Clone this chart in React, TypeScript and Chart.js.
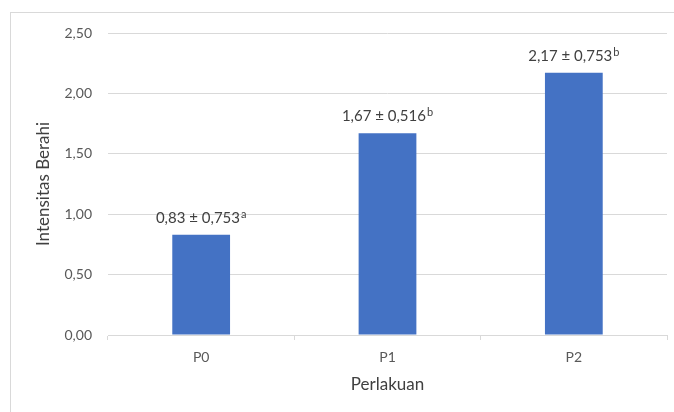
import React, { useEffect, useRef } from "react";
import { Chart, registerables } from "chart.js";

Chart.register(...registerables);

const categories = ["P0", "P1", "P2"];
const means = [0.83, 1.67, 2.17];
const sds = [0.753, 0.516, 0.753];
const letters = ["a", "b", "b"];
const yMin = 0;
const yMax = 2.5;
const yStep = 0.5;
const yTitle = "Intensitas Berahi";
const xTitle = "Perlakuan";

const FONT = "Lato";
const fmt = (v: number, d: number) => v.toFixed(d).replace(".", ",");

const labelPlugin = {
  id: "barLabels",
  afterDatasetsDraw(chart: any) {
    const ctx = chart.ctx;
    const meta = chart.getDatasetMeta(0);
    ctx.save();
    ctx.fillStyle = "#404040";
    ctx.textBaseline = "alphabetic";
    ctx.textAlign = "left";
    meta.data.forEach((el: any, i: number) => {
      const main = `${fmt(means[i], 2)} ± ${fmt(sds[i], 3)}`;
      const sup = letters[i];
      ctx.font = `15px ${FONT}`;
      const wMain = ctx.measureText(main).width;
      ctx.font = `11px ${FONT}`;
      const wSup = ctx.measureText(sup).width;
      const total = wMain + wSup + 1;
      const x0 = el.x - total / 2;
      const yBase = el.y - 12;
      ctx.font = `15px ${FONT}`;
      ctx.fillText(main, x0, yBase);
      ctx.font = `11px ${FONT}`;
      ctx.fillText(sup, x0 + wMain + 1, yBase - 5);
    });
    ctx.restore();
  },
};

export default function App() {
  const ref = useRef<HTMLCanvasElement | null>(null);

  useEffect(() => {
    document.body.style.margin = "0";
    if (!ref.current) return;
    const chart = new Chart(ref.current, {
      type: "bar",
      data: {
        labels: categories,
        datasets: [
          {
            data: means,
            backgroundColor: "#4472C4",
            categoryPercentage: 1,
            barPercentage: 0.31,
          },
        ],
      },
      options: {
        animation: false,
        responsive: false,
        maintainAspectRatio: false,
        layout: { padding: { left: 28, top: 33, right: 7, bottom: 13 } },
        plugins: { legend: { display: false }, tooltip: { enabled: false } },
        scales: {
          y: {
            min: yMin,
            max: yMax,
            ticks: {
              stepSize: yStep,
              padding: 16,
              color: "#595959",
              font: { family: FONT, size: 14 },
              callback: (v: any) => fmt(Number(v), 2),
            },
            grid: { color: "#d9d9d9", drawTicks: false, lineWidth: 1 },
            border: { display: false },
            title: {
              display: true,
              text: yTitle,
              color: "#404040",
              font: { family: FONT, size: 17 },
              padding: { top: 5, bottom: 0 },
            },
            afterFit: (s: any) => {
              s.width = 80;
            },
          },
          x: {
            ticks: {
              padding: 9,
              color: "#595959",
              font: { family: FONT, size: 14 },
            },
            grid: {
              offset: true,
              drawOnChartArea: false,
              drawTicks: true,
              tickLength: 5,
              color: "#d9d9d9",
            },
            border: { display: true, color: "#d9d9d9" },
            title: {
              display: true,
              text: xTitle,
              color: "#404040",
              font: { family: FONT, size: 17 },
              padding: { top: 0, bottom: 4 },
            },
            afterFit: (s: any) => {
              s.height = 64;
            },
          },
        },
      },
      plugins: [labelPlugin],
    });
    return () => chart.destroy();
  }, []);

  return (
    <div style={{ position: "relative", width: 674, height: 412, overflow: "hidden" }}>
      <div
        style={{
          position: "absolute",
          left: 10,
          top: 12,
          width: 700,
          height: 440,
          border: "1px solid #d9d9d9",
        }}
      />
      <canvas ref={ref} width={674} height={412} style={{ position: "absolute", left: 0, top: 0, width: 674, height: 412 }} />
    </div>
  );
}
